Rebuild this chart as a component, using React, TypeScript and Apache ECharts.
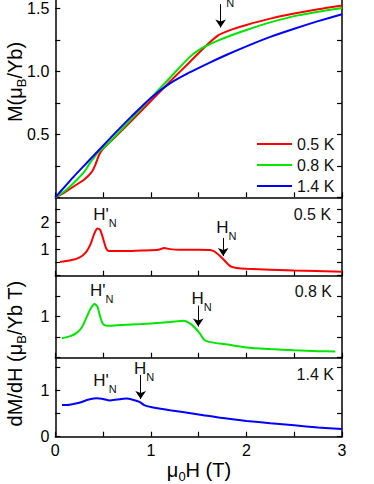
import React, { useEffect, useRef } from 'react';
import * as echarts from 'echarts';

const FONT = 'Arial';

const TEMPS = ['0.5 K', '0.8 K', '1.4 K'];
const COLORS = ['#ff0000', '#00e600', '#0000ff'];

// Magnetization M (μB/Yb) vs μ0H (T)
const M_05 = [[0,0],[0.1,0.04],[0.2,0.09],[0.3,0.14],[0.38,0.2],[0.42,0.26],[0.46,0.34],[0.5,0.385],[0.6,0.46],[0.8,0.61],[1.0,0.765],[1.2,0.92],[1.4,1.07],[1.6,1.22],[1.7,1.285],[1.75,1.305],[1.85,1.335],[2.0,1.37],[2.25,1.42],[2.5,1.46],[2.75,1.495],[3.0,1.525]];
const M_08 = [[0,0],[0.1,0.05],[0.2,0.12],[0.3,0.2],[0.36,0.27],[0.4,0.31],[0.45,0.36],[0.5,0.39],[0.6,0.465],[0.8,0.625],[1.0,0.79],[1.2,0.95],[1.4,1.11],[1.5,1.17],[1.6,1.21],[1.7,1.245],[1.85,1.29],[2.0,1.33],[2.25,1.39],[2.5,1.44],[2.75,1.475],[3.0,1.505]];
const M_14 = [[0,0],[0.1,0.085],[0.2,0.17],[0.3,0.25],[0.4,0.33],[0.5,0.41],[0.6,0.49],[0.8,0.645],[1.0,0.79],[1.2,0.905],[1.4,0.99],[1.6,1.065],[1.8,1.135],[2.0,1.2],[2.25,1.275],[2.5,1.34],[2.75,1.4],[3.0,1.455]];

// dM/dH (μB/Yb T) vs μ0H (T)
const DMDH_05 = [[0.05,0.52],[0.15,0.57],[0.25,0.68],[0.32,0.88],[0.37,1.2],[0.41,1.6],[0.44,1.78],[0.47,1.72],[0.5,1.4],[0.53,1.05],[0.56,0.93],[0.7,0.93],[0.9,0.95],[1.0,0.96],[1.08,0.98],[1.14,1.04],[1.2,1.0],[1.3,0.98],[1.5,0.98],[1.62,0.97],[1.67,0.9],[1.75,0.65],[1.83,0.36],[1.9,0.29],[2.0,0.26],[2.5,0.2],[3.0,0.15]];
const DMDH_08 = [[0.07,0.475],[0.15,0.52],[0.22,0.6],[0.28,0.75],[0.33,1.0],[0.37,1.2],[0.41,1.31],[0.44,1.25],[0.47,1.0],[0.5,0.82],[0.55,0.78],[0.7,0.8],[0.9,0.82],[1.1,0.85],[1.25,0.88],[1.34,0.9],[1.43,0.8],[1.51,0.6],[1.56,0.43],[1.62,0.38],[1.8,0.32],[2.0,0.25],[2.25,0.21],[2.5,0.18],[2.75,0.16],[2.93,0.15]];
const DMDH_14 = [[0.07,0.68],[0.15,0.69],[0.25,0.73],[0.35,0.8],[0.44,0.83],[0.5,0.81],[0.57,0.78],[0.65,0.8],[0.74,0.82],[0.82,0.79],[0.88,0.75],[0.93,0.68],[1.0,0.64],[1.2,0.57],[1.5,0.48],[1.75,0.4],[2.0,0.34],[2.25,0.29],[2.5,0.245],[2.75,0.2],[3.0,0.165]];

const X_MIN = 0;
const X_MAX = 3;
const X_TICK_LABELS = [0, 1, 2, 3];
const Y_MAX = [1.7, 2.95, 2, 1.7];
const Y_STEP = [0.25, 0.5, 0.5, 0.5];
const Y_TICK_LABELS = [[0.5, 1.0, 1.5], [1, 2], [1], [0, 1]];

// arrows: [panel, H, from, to]
const ARROWS = [[0, 1.73, 1.535, 1.35], [1, 1.757, 1.42, 0.74], [2, 1.496, 1.27, 0.76], [3, 0.893, 1.33, 0.81]];
// transition labels: [panel, H, y, primed]
const H_LABELS: [number, number, number, boolean][] = [
  [0, 1.765, 1.608, false],
  [1, 0.52, 2.31, true],
  [1, 1.79, 1.81, false],
  [2, 0.485, 1.65, true],
  [2, 1.53, 1.45, false],
  [3, 0.52, 1.2, true],
  [3, 0.928, 1.47, false],
];
// temperature labels: [panel, H, y]
const T_LABELS = [[1, 2.69, 2.32], [2, 2.7, 1.61], [3, 2.72, 1.33]];

const GRID_TOP = [-16.6, 197.3, 275.7, 357.7];
const GRID_H = [213.9, 78.4, 82, 79];

export default function App() {
  const ref = useRef<HTMLDivElement>(null);
  useEffect(() => {
    const chart = echarts.init(ref.current!, null, { renderer: 'svg' });
    const near = (a: number, b: number) => Math.abs(a - b) < 1e-6;
    const grids = GRID_TOP.map((t, i) => ({
      left: 55.3, width: 286.7, top: t, height: GRID_H[i], outerBoundsMode: 'none', containLabel: false,
    }));
    const axisLine = { show: true, lineStyle: { color: '#000', width: 1.5 } };
    const tick = { show: true, inside: true, length: 5, lineStyle: { color: '#000', width: 1.2 } };
    const xAxes = GRID_TOP.map((_, i) => ({
      type: 'value', gridIndex: i, min: X_MIN, max: X_MAX, interval: 0.5,
      axisLine, axisTick: tick, splitLine: { show: false },
      axisLabel: {
        show: i === 3, color: '#000', fontSize: 16, fontFamily: FONT, margin: 6,
        formatter: (v: number) => (X_TICK_LABELS.some((l) => near(l, v)) ? String(v) : ''),
      },
    }));
    const yLeft = GRID_TOP.map((_, i) => ({
      type: 'value', gridIndex: i, min: 0, max: Y_MAX[i], interval: Y_STEP[i],
      axisLine, axisTick: tick, splitLine: { show: false },
      axisLabel: {
        color: '#000', fontSize: 16, fontFamily: FONT, margin: 6, showMaxLabel: false,
        formatter: (v: number) => {
          const l = Y_TICK_LABELS[i].find((x) => near(x, v));
          if (l === undefined) return '';
          return i === 0 ? l.toFixed(1) : String(l);
        },
      },
    }));
    const yRight = GRID_TOP.map((_, i) => ({
      type: 'value', gridIndex: i, position: 'right', min: 0, max: Y_MAX[i], interval: Y_STEP[i],
      axisLine, axisTick: tick, splitLine: { show: false }, axisLabel: { show: false },
    }));

    const labRich = {
      a: { fontSize: 17, lineHeight: 28, color: '#111', fontFamily: FONT },
      s: { fontSize: 11, lineHeight: 11, verticalAlign: 'bottom', color: '#111', fontFamily: FONT },
      t: { fontSize: 16, lineHeight: 20, color: '#111', fontFamily: FONT },
    };

    const dSeries = [DMDH_05, DMDH_08, DMDH_14];
    const mSeries = [M_05, M_08, M_14];
    const series: any[] = [];
    mSeries.forEach((d, k) => {
      series.push({
        type: 'line', name: TEMPS[k], xAxisIndex: 0, yAxisIndex: 0, data: d,
        symbol: 'none', showSymbol: false, smooth: 0.25,
        lineStyle: { color: COLORS[k], width: 2 }, itemStyle: { color: COLORS[k] },
        silent: true,
      });
    });
    dSeries.forEach((d, k) => {
      series.push({
        type: 'line', name: 'dMdH ' + TEMPS[k], xAxisIndex: k + 1, yAxisIndex: k + 1, data: d,
        symbol: 'none', showSymbol: false, smooth: 0.25,
        lineStyle: { color: COLORS[k], width: 2 }, itemStyle: { color: COLORS[k] },
        silent: true,
      });
    });
    // panel annotation carriers
    [0, 1, 2, 3].forEach((p) => {
      const arrows = ARROWS.filter((a) => a[0] === p).map((a) => [
        { coord: [a[1], a[2]] }, { coord: [a[1], a[3]] },
      ]);
      const hl = H_LABELS.filter((l) => l[0] === p).map((l) => ({
        coord: [l[1], l[2]], symbol: 'rect', symbolSize: 0,
        label: {
          show: true, position: 'inside', formatter: l[3] ? "{a|H'}{s|N}" : '{a|H}{s|N}', rich: labRich,
        },
      }));
      const tl = T_LABELS.filter((l) => l[0] === p).map((l) => ({
        coord: [l[1], l[2]], symbol: 'rect', symbolSize: 0,
        label: { show: true, position: 'inside', formatter: '{t|' + TEMPS[l[0] - 1] + '}', rich: labRich },
      }));
      series.push({
        type: 'line', name: 'annot' + p, xAxisIndex: p, yAxisIndex: p, data: [], silent: true, clip: false,
        symbol: 'none',
        markLine: {
          silent: true, symbol: ['none', 'arrow'], symbolSize: 8, label: { show: false },
          lineStyle: { color: '#000', width: 1, type: 'solid' }, emphasis: { disabled: true },
          data: arrows,
        },
        markPoint: { silent: true, data: [...hl, ...tl] },
      });
    });

    const titleRich = {
      t: { fontSize: 20, lineHeight: 26, color: '#111', fontFamily: FONT },
      ts: { fontSize: 13, lineHeight: 12, verticalAlign: 'bottom', color: '#111', fontFamily: FONT },
    };

    chart.setOption({
      animation: false,
      backgroundColor: '#fff',
      grid: grids,
      xAxis: xAxes,
      yAxis: [...yLeft, ...yRight],
      legend: {
        data: TEMPS, orient: 'vertical', left: 252, top: 131, itemWidth: 35, itemHeight: 14, itemGap: 5,
        icon: 'path://M0,0 L35,0 L35,2 L0,2 Z',
        textStyle: { fontSize: 16, color: '#111', fontFamily: FONT }, selectedMode: false,
      },
      graphic: [
        {
          type: 'text', x: 14.5, y: 82, rotation: Math.PI / 2,
          style: { text: '{t|M(μ}{ts|B}{t|/Yb)}', rich: titleRich, align: 'center', verticalAlign: 'middle' },
        },
        {
          type: 'text', x: 14.5, y: 353.5, rotation: Math.PI / 2,
          style: { text: '{t|dM/dH (μ}{ts|B}{t|/Yb T)}', rich: titleRich, align: 'center', verticalAlign: 'middle' },
        },
        {
          type: 'text', x: 199, y: 470,
          style: { text: '{t|μ}{ts|0}{t|H (T)}', rich: titleRich, align: 'center', verticalAlign: 'middle' },
        },
      ],
      series,
    });
    return () => chart.dispose();
  }, []);
  return <div ref={ref} style={{ position: 'absolute', left: 0, top: 0, width: 374, height: 484 }} />;
}
